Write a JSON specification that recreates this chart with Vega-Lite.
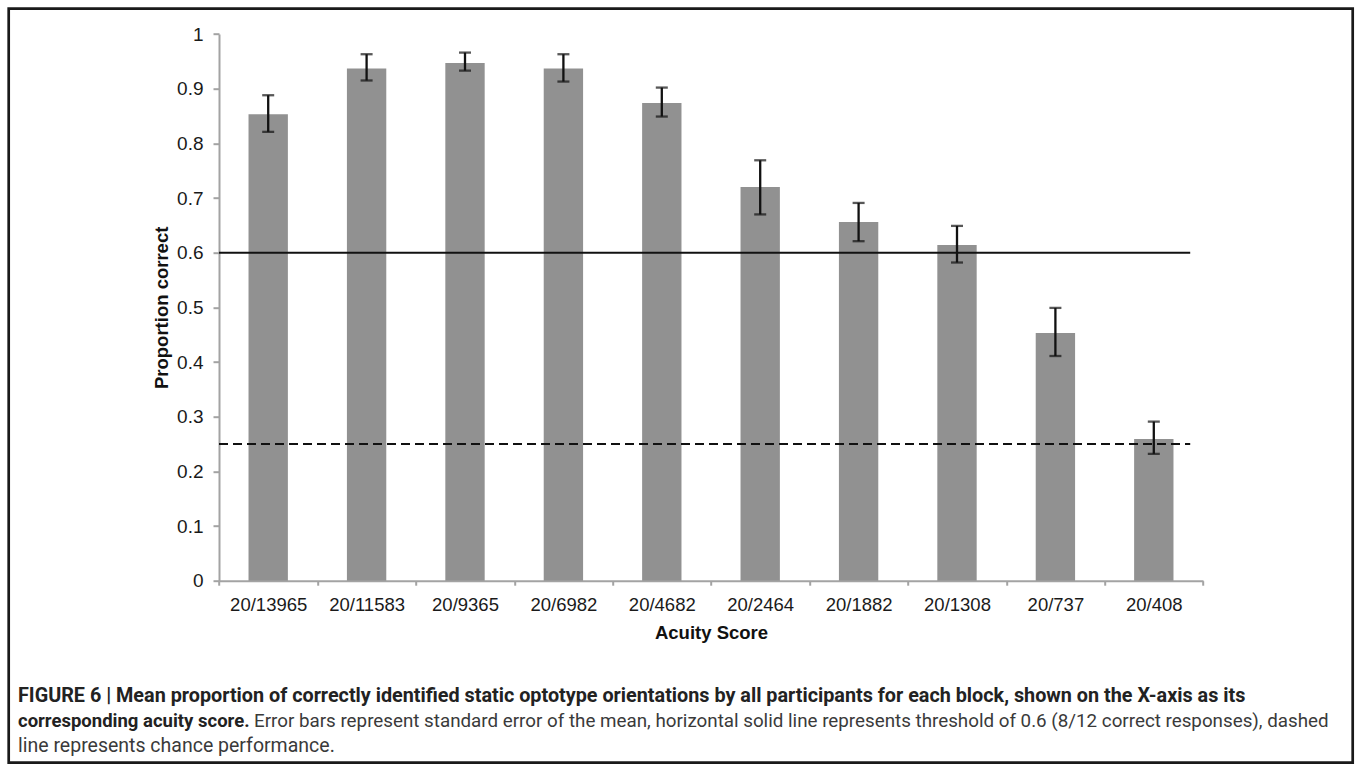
{
  "$schema": "https://vega.github.io/schema/vega-lite/v6.json",
  "width": 1344,
  "height": 754,
  "autosize": "none",
  "padding": {"left": 8.7, "top": 8.7, "right": 2.3, "bottom": 6.3},
  "background": "white",
  "config": {
    "view": {"stroke": "#1a1a1a", "strokeWidth": 2.7, "fill": "white"},
    "font": "Liberation Sans"
  },
  "datasets": {
    "acuity": [
      {"score": "20/13965", "mean": 0.853, "lo": 0.821, "hi": 0.888},
      {"score": "20/11583", "mean": 0.937, "lo": 0.915, "hi": 0.963},
      {"score": "20/9365", "mean": 0.947, "lo": 0.933, "hi": 0.966},
      {"score": "20/6982", "mean": 0.937, "lo": 0.913, "hi": 0.963},
      {"score": "20/4682", "mean": 0.874, "lo": 0.849, "hi": 0.902},
      {"score": "20/2464", "mean": 0.72, "lo": 0.67, "hi": 0.769},
      {"score": "20/1882", "mean": 0.656, "lo": 0.621, "hi": 0.691},
      {"score": "20/1308", "mean": 0.614, "lo": 0.582, "hi": 0.649},
      {"score": "20/737", "mean": 0.453, "lo": 0.411, "hi": 0.499},
      {"score": "20/408", "mean": 0.259, "lo": 0.232, "hi": 0.291}
    ]
  },
  "layer": [
    {
      "data": {"name": "acuity"},
      "mark": {"type": "bar", "color": "#919191", "width": {"band": 0.4}},
      "encoding": {
        "x": {
          "field": "score",
          "type": "nominal",
          "sort": null,
          "scale": {
            "domain": ["20/13965", "20/11583", "20/9365", "20/6982", "20/4682", "20/2464", "20/1882", "20/1308", "20/737", "20/408"],
            "range": [210.3, 1194.3],
            "paddingInner": 0,
            "paddingOuter": 0
          },
          "axis": {
            "title": "Acuity Score",
            "titleFont": "Liberation Sans",
            "titleFontSize": 18.5,
            "titleFontWeight": "bold",
            "titleColor": "#111111",
            "titlePadding": 10,
            "labelFont": "Liberation Sans",
            "labelFontSize": 18.5,
            "labelColor": "#1a1a1a",
            "labelAngle": 0,
            "labelPadding": 10,
            "tickBand": "extent",
            "tickSize": 4.5,
            "tickWidth": 2,
            "tickColor": "#a3a3a3",
            "domainColor": "#a3a3a3",
            "domainWidth": 2,
            "offset": -182
          }
        },
        "y": {
          "field": "mean",
          "type": "quantitative",
          "scale": {"domain": [0, 1], "range": [572, 25.3]},
          "axis": {
            "title": "Proportion correct",
            "titleFont": "Liberation Sans",
            "titleFontSize": 18.5,
            "titleFontWeight": "bold",
            "titleColor": "#111111",
            "titlePadding": 5,
            "values": [0, 0.1, 0.2, 0.3, 0.4, 0.5, 0.6, 0.7, 0.8, 0.9, 1],
            "format": "~g",
            "labelFont": "Liberation Sans",
            "labelFontSize": 19,
            "labelColor": "#1a1a1a",
            "labelPadding": 10,
            "tickSize": 6,
            "tickWidth": 2,
            "tickColor": "#a3a3a3",
            "domainColor": "#a3a3a3",
            "domainWidth": 2,
            "grid": false,
            "offset": -210.3
          }
        }
      }
    },
    {
      "data": {"values": [{"level": 0.6, "from": "20/13965", "to": "20/408"}]},
      "mark": {"type": "rule", "color": "#111111", "strokeWidth": 2},
      "encoding": {
        "x": {"field": "from", "type": "nominal", "bandPosition": 0},
        "x2": {"field": "to", "bandPosition": 0.87},
        "y": {"field": "level", "type": "quantitative"}
      }
    },
    {
      "data": {"values": [{"level": 0.25, "from": "20/13965", "to": "20/408"}]},
      "mark": {"type": "rule", "color": "#111111", "strokeWidth": 2, "strokeDash": [9, 5]},
      "encoding": {
        "x": {"field": "from", "type": "nominal", "bandPosition": 0},
        "x2": {"field": "to", "bandPosition": 0.87},
        "y": {"field": "level", "type": "quantitative"}
      }
    },
    {
      "data": {"name": "acuity"},
      "mark": {"type": "rule", "color": "#111111", "strokeWidth": 2.3},
      "encoding": {
        "x": {"field": "score", "type": "nominal"},
        "y": {"field": "lo", "type": "quantitative"},
        "y2": {"field": "hi"}
      }
    },
    {
      "data": {"name": "acuity"},
      "mark": {"type": "tick", "color": "#111111", "size": 12, "thickness": 2.3},
      "encoding": {
        "x": {"field": "score", "type": "nominal"},
        "y": {"field": "lo", "type": "quantitative"}
      }
    },
    {
      "data": {"name": "acuity"},
      "mark": {"type": "tick", "color": "#111111", "size": 12, "thickness": 2.3},
      "encoding": {
        "x": {"field": "score", "type": "nominal"},
        "y": {"field": "hi", "type": "quantitative"}
      }
    },
    {
      "data": {"values": [{"caption": "FIGURE 6 | Mean proportion of correctly identified static optotype orientations by all participants for each block, shown on the X-axis as its"}]},
      "mark": {"type": "text", "align": "left", "baseline": "middle", "font": "Roboto", "fontSize": 19.8, "fontWeight": "bold", "color": "#222222", "dx": -201, "dy": 115.3},
      "encoding": {
        "text": {"field": "caption"},
        "x": {"datum": "20/13965", "type": "nominal", "bandPosition": 0},
        "y": {"datum": 0, "type": "quantitative"}
      }
    },
    {
      "data": {"values": [{"caption": "corresponding acuity score."}]},
      "mark": {"type": "text", "align": "left", "baseline": "middle", "font": "Roboto", "fontSize": 18.5, "fontWeight": "bold", "color": "#222222", "dx": -201, "dy": 140.3},
      "encoding": {
        "text": {"field": "caption"},
        "x": {"datum": "20/13965", "type": "nominal", "bandPosition": 0},
        "y": {"datum": 0, "type": "quantitative"}
      }
    },
    {
      "data": {"values": [{"caption": "Error bars represent standard error of the mean, horizontal solid line represents threshold of 0.6 (8/12 correct responses), dashed"}]},
      "mark": {"type": "text", "align": "left", "baseline": "middle", "font": "Roboto", "fontSize": 18.8, "fontWeight": "normal", "color": "#3a3a3a", "dx": 35, "dy": 140.3},
      "encoding": {
        "text": {"field": "caption"},
        "x": {"datum": "20/13965", "type": "nominal", "bandPosition": 0},
        "y": {"datum": 0, "type": "quantitative"}
      }
    },
    {
      "data": {"values": [{"caption": "line represents chance performance."}]},
      "mark": {"type": "text", "align": "left", "baseline": "middle", "font": "Roboto", "fontSize": 19.5, "fontWeight": "normal", "color": "#3a3a3a", "dx": -201, "dy": 165},
      "encoding": {
        "text": {"field": "caption"},
        "x": {"datum": "20/13965", "type": "nominal", "bandPosition": 0},
        "y": {"datum": 0, "type": "quantitative"}
      }
    }
  ]
}
